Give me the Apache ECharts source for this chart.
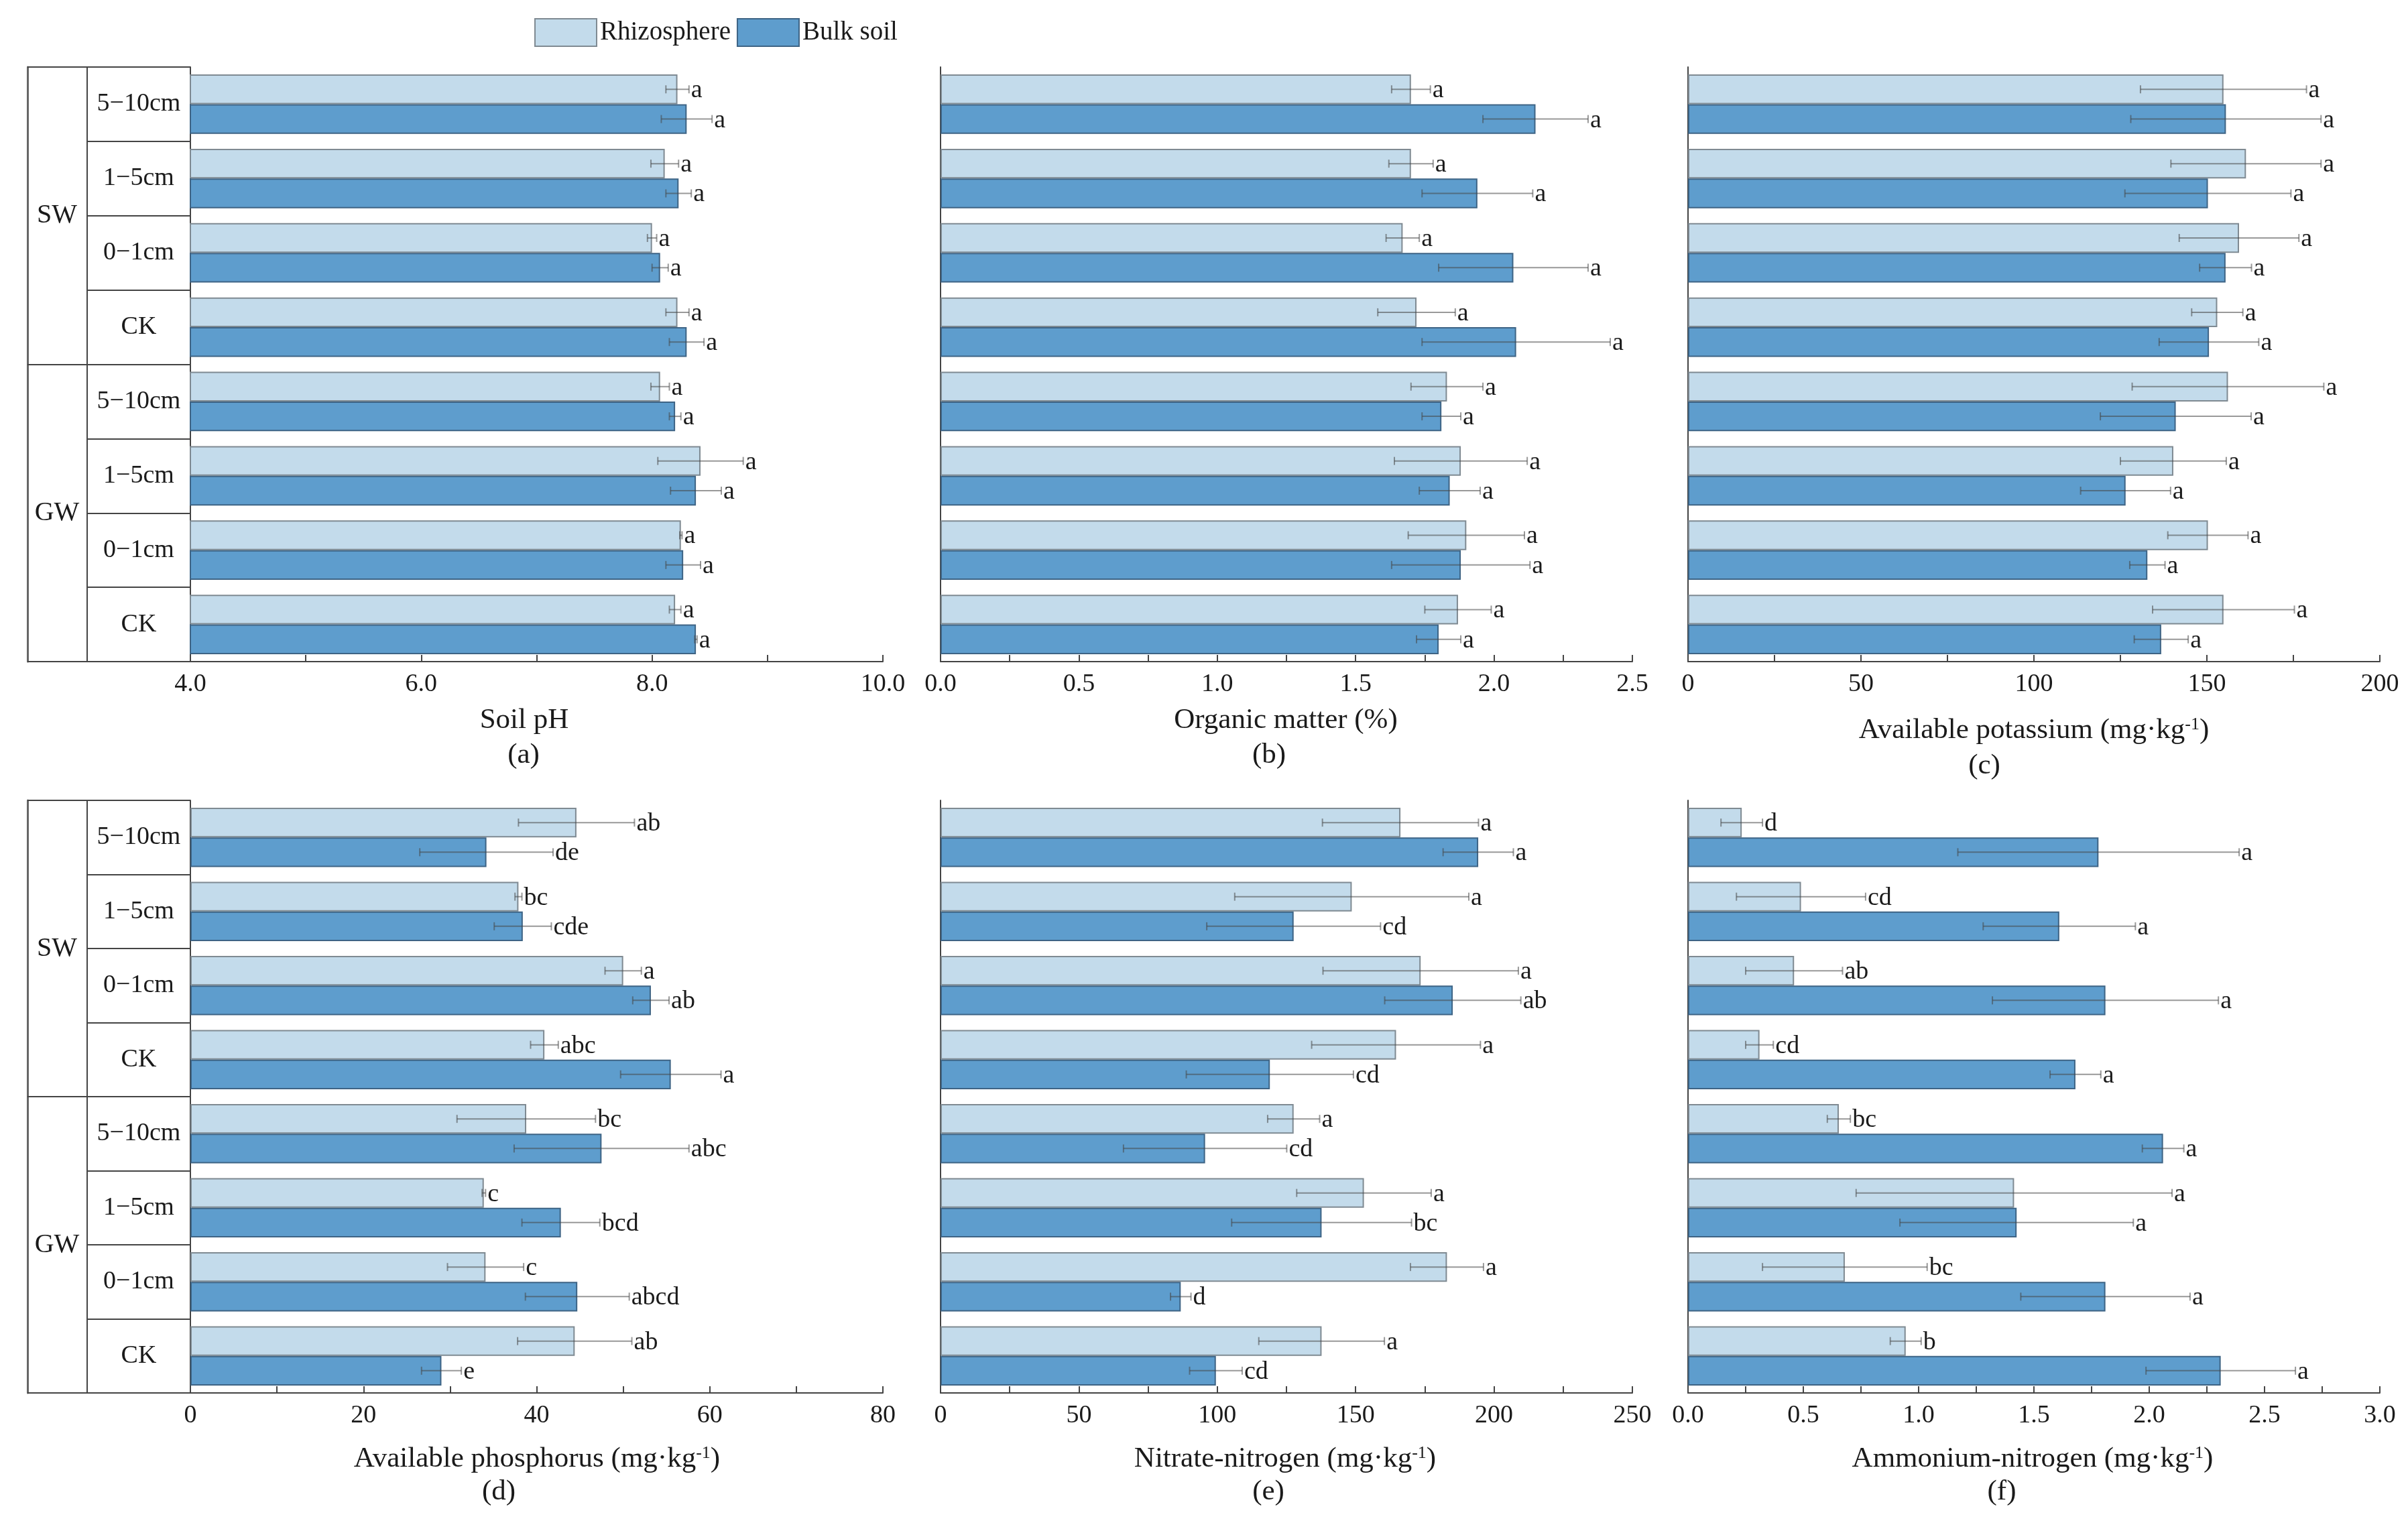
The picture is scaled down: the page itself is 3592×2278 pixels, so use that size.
<!DOCTYPE html>
<html>
<head>
<meta charset="utf-8">
<script src="https://cdn.jsdelivr.net/npm/echarts@6/dist/echarts.min.js"></script>
<style>
html,body{margin:0;padding:0;background:#fff;}
#chart{width:3592px;height:2278px;}
</style>
</head>
<body>
<div id="chart"></div>
<script>
// ---------- data ----------
const categoryKeys = ['SW|5−10cm','SW|1−5cm','SW|0−1cm','SW|CK','GW|5−10cm','GW|1−5cm','GW|0−1cm','GW|CK'];
const groupNames = ['SW','GW'];
const seriesNames = ['Rhizosphere','Bulk soil'];

// (a) Soil pH
const rhizoPH = [8.22, 8.11, 8.00, 8.22, 8.07, 8.42, 8.25, 8.20];
const rhizoPHErr = [0.10, 0.12, 0.04, 0.10, 0.08, 0.37, 0.01, 0.05];
const rhizoPHSig = ['a','a','a','a','a','a','a','a'];
const bulkPH = [8.30, 8.23, 8.07, 8.30, 8.20, 8.38, 8.27, 8.38];
const bulkPHErr = [0.22, 0.11, 0.07, 0.15, 0.05, 0.22, 0.15, 0.01];
const bulkPHSig = ['a','a','a','a','a','a','a','a'];

// (b) Organic matter
const rhizoOM = [1.70, 1.70, 1.67, 1.72, 1.83, 1.88, 1.90, 1.87];
const rhizoOMErr = [0.07, 0.08, 0.06, 0.14, 0.13, 0.24, 0.21, 0.12];
const rhizoOMSig = ['a','a','a','a','a','a','a','a'];
const bulkOM = [2.15, 1.94, 2.07, 2.08, 1.81, 1.84, 1.88, 1.80];
const bulkOMErr = [0.19, 0.20, 0.27, 0.34, 0.07, 0.11, 0.25, 0.08];
const bulkOMSig = ['a','a','a','a','a','a','a','a'];

// (c) Available potassium
const rhizoAK = [154.8, 161.3, 159.3, 153.0, 156.1, 140.3, 150.3, 154.8];
const rhizoAKErr = [24.0, 21.7, 17.3, 7.4, 27.7, 15.3, 11.6, 20.5];
const rhizoAKSig = ['a','a','a','a','a','a','a','a'];
const bulkAK = [155.5, 150.3, 155.4, 150.6, 141.0, 126.5, 132.8, 136.8];
const bulkAKErr = [27.5, 24.0, 7.5, 14.4, 21.8, 13.0, 5.1, 7.8];
const bulkAKSig = ['a','a','a','a','a','a','a','a'];

// (d) Available phosphorus
const rhizoAP = [44.6, 37.9, 50.0, 40.9, 38.8, 33.9, 34.1, 44.4];
const rhizoAPErr = [6.7, 0.4, 2.1, 1.6, 8.0, 0.2, 4.4, 6.6];
const rhizoAPSig = ['ab','bc','a','abc','bc','c','c','ab'];
const bulkAP = [34.2, 38.4, 53.2, 55.5, 47.5, 42.8, 44.7, 29.0];
const bulkAPErr = [7.7, 3.3, 2.1, 5.8, 10.1, 4.5, 6.0, 2.3];
const bulkAPSig = ['de','cde','ab','a','abc','bcd','abcd','e'];

// (e) Nitrate-nitrogen
const rhizoNN = [166.2, 148.6, 173.5, 164.6, 127.6, 153.0, 183.0, 137.7];
const rhizoNNErr = [28.2, 42.3, 35.3, 30.5, 9.4, 24.3, 13.2, 22.7];
const rhizoNNSig = ['a','a','a','a','a','a','a','a'];
const bulkNN = [194.3, 127.6, 185.1, 119.0, 95.6, 137.7, 86.8, 99.5];
const bulkNNErr = [12.7, 31.4, 24.6, 30.2, 29.5, 32.5, 3.7, 9.5];
const bulkNNSig = ['a','cd','ab','cd','cd','bc','d','cd'];

// (f) Ammonium-nitrogen
const rhizoAN = [0.233, 0.49, 0.46, 0.31, 0.654, 1.414, 0.68, 0.944];
const rhizoANErr = [0.09, 0.28, 0.21, 0.06, 0.05, 0.685, 0.357, 0.067];
const rhizoANSig = ['d','cd','ab','cd','bc','a','bc','b'];
const bulkAN = [1.78, 1.61, 1.81, 1.68, 2.06, 1.425, 1.81, 2.31];
const bulkANErr = [0.61, 0.33, 0.49, 0.11, 0.09, 0.506, 0.367, 0.324];
const bulkANSig = ['a','a','a','a','a','a','a','a'];

// axis scales
const axisMin = [4, 0, 0, 0, 0, 0];
const axisMax = [10, 2.5, 200, 80, 250, 3];
const axisInterval = [2, 0.5, 50, 20, 50, 0.5];
const axisDecimals = [1, 1, 0, 0, 0, 1];
const axisTitles = ['Soil pH', 'Organic matter (%)', 'Available potassium (mg·kg{sup|-1})',
  'Available phosphorus (mg·kg{sup|-1})', 'Nitrate-nitrogen (mg·kg{sup|-1})', 'Ammonium-nitrogen (mg·kg{sup|-1})'];
const panelLabels = ['(a)','(b)','(c)','(d)','(e)','(f)'];

// ---------- build ----------
const panels = [
  [rhizoPH, rhizoPHErr, rhizoPHSig, bulkPH, bulkPHErr, bulkPHSig],
  [rhizoOM, rhizoOMErr, rhizoOMSig, bulkOM, bulkOMErr, bulkOMSig],
  [rhizoAK, rhizoAKErr, rhizoAKSig, bulkAK, bulkAKErr, bulkAKSig],
  [rhizoAP, rhizoAPErr, rhizoAPSig, bulkAP, bulkAPErr, bulkAPSig],
  [rhizoNN, rhizoNNErr, rhizoNNSig, bulkNN, bulkNNErr, bulkNNSig],
  [rhizoAN, rhizoANErr, rhizoANSig, bulkAN, bulkANErr, bulkANSig]
];

const FONT = '"Liberation Serif", "Times New Roman", serif';
const TXT = '#1a1a1a';
const LIGHT = '#c3dbeb';
const DARK = '#5e9dcd';
const colLeft = [284, 1403, 2518];
const colWidth = [1033, 1032, 1032];
const rowTop = [100, 1194];
const rowHeight = [887, 884];

const grids = [], xAxes = [], yAxes = [], series = [], graphics = [];

const titlePos = [
  [782, 1075, 781, 1127], [1918, 1075, 1893, 1127], [3034, 1090, 2960, 1143],
  [801, 2177, 744, 2226], [1917, 2177, 1892, 2226], [3032, 2177, 2986, 2226]
];

panels.forEach((p, k) => {
  const row = Math.floor(k / 3), col = k % 3;
  grids.push({left: colLeft[col], top: rowTop[row], width: colWidth[col], height: rowHeight[row]});
  const dec = axisDecimals[k];
  xAxes.push({
    type: 'value', gridIndex: k, min: axisMin[k], max: axisMax[k], interval: axisInterval[k],
    axisLine: {show: true, lineStyle: {color: '#444', width: 2}},
    axisTick: {show: true, inside: true, length: 10, lineStyle: {color: '#444', width: 2}},
    minorTick: {show: true, splitNumber: 2, length: 10, lineStyle: {color: '#444', width: 2}},
    splitLine: {show: false},
    axisLabel: {fontFamily: FONT, fontSize: 38, color: TXT, margin: 15,
      formatter: v => Number(v).toFixed(dec)}
  });
  const mainY = yAxes.length;
  const isTable = (col === 0);
  yAxes.push({
    type: 'category', gridIndex: k, inverse: true, data: categoryKeys, position: 'left',
    axisLine: {show: true, lineStyle: {color: '#444', width: 2}},
    axisTick: {show: isTable, interval: 0, length: 154, lineStyle: {color: '#444', width: 2}},
    axisLabel: {show: isTable, interval: 0, fontFamily: FONT, fontSize: 38, color: TXT,
      margin: 77, align: 'center', formatter: v => v.split('|')[1]}
  });
  if (isTable) {
    yAxes.push({
      type: 'category', gridIndex: k, inverse: true, data: groupNames, position: 'left', offset: 154,
      axisLine: {show: true, lineStyle: {color: '#444', width: 2}},
      axisTick: {show: true, interval: 0, length: 89, lineStyle: {color: '#444', width: 2}},
      axisLabel: {show: true, interval: 0, fontFamily: FONT, fontSize: 40, color: TXT, margin: 45, align: 'center'}
    });
    yAxes.push({
      type: 'category', gridIndex: k, inverse: true, data: groupNames, position: 'left', offset: 243,
      axisLine: {show: true, lineStyle: {color: '#666', width: 3}},
      axisTick: {show: false}, axisLabel: {show: false}
    });
  }
  const vals = [p[0], p[3]], errs = [p[1], p[4]], sigs = [p[2], p[5]];
  [0, 1].forEach(s => {
    series.push({
      name: seriesNames[s], type: 'bar', xAxisIndex: k, yAxisIndex: mainY,
      barWidth: '40%', barGap: '0%',
      itemStyle: {color: s === 0 ? LIGHT : DARK, borderColor: s === 0 ? '#7f8a92' : '#3e6485', borderWidth: 2},
      emphasis: {disabled: true},
      data: vals[s]
    });
  });
  [0, 1].forEach(s => {
    const sig = sigs[s];
    series.push({
      type: 'custom', xAxisIndex: k, yAxisIndex: mainY, z: 5, silent: true,
      encode: {x: 0, y: 1},
      data: vals[s].map((v, i) => [v, i, errs[s][i]]),
      renderItem: function (params, api) {
        const v = api.value(0), ci = api.value(1), e = api.value(2);
        const c = api.coord([v, ci]);
        const band = api.size([0, 1])[1];
        const yc = c[1] + (s === 0 ? -0.2 : 0.2) * band;
        const x1 = api.coord([v - e, ci])[0];
        const x2 = api.coord([v + e, ci])[0];
        const ls = {stroke: 'rgba(70,70,70,0.55)', lineWidth: 2};
        const cap = 6;
        return {type: 'group', children: [
          {type: 'line', shape: {x1: x1, y1: yc, x2: x2, y2: yc}, style: ls},
          {type: 'line', shape: {x1: x1, y1: yc - cap, x2: x1, y2: yc + cap}, style: ls},
          {type: 'line', shape: {x1: x2, y1: yc - cap, x2: x2, y2: yc + cap}, style: ls},
          {type: 'text', x: x2 + 3, y: yc + 2, style: {text: sig[params.dataIndex], fontSize: 38, fontFamily: FONT,
            fill: TXT, align: 'left', verticalAlign: 'middle'}}
        ]};
      }
    });
  });
  const tp = titlePos[k];
  graphics.push({type: 'text', x: tp[0], y: tp[1], silent: true,
    style: {text: axisTitles[k], fontSize: 43, fontFamily: FONT, fill: TXT, align: 'center', verticalAlign: 'middle',
      rich: {sup: {fontSize: 26, fontFamily: FONT, fill: TXT, verticalAlign: 'top', padding: [0, 0, 18, 0]}}}});
  graphics.push({type: 'text', x: tp[2], y: tp[3], silent: true,
    style: {text: panelLabels[k], fontSize: 43, fontFamily: FONT, fill: TXT, align: 'center', verticalAlign: 'middle'}});
});

const chart = echarts.init(document.getElementById('chart'));
chart.setOption({
  backgroundColor: '#fff',
  animation: false,
  legend: {
    data: seriesNames, left: 797, top: 27, padding: 0, itemWidth: 92, itemHeight: 41, itemGap: 9,
    icon: 'rect', textStyle: {fontFamily: FONT, fontSize: 39, color: TXT}, selectedMode: false
  },
  grid: grids,
  xAxis: xAxes,
  yAxis: yAxes,
  series: series,
  graphic: graphics
});
</script>
</body>
</html>
